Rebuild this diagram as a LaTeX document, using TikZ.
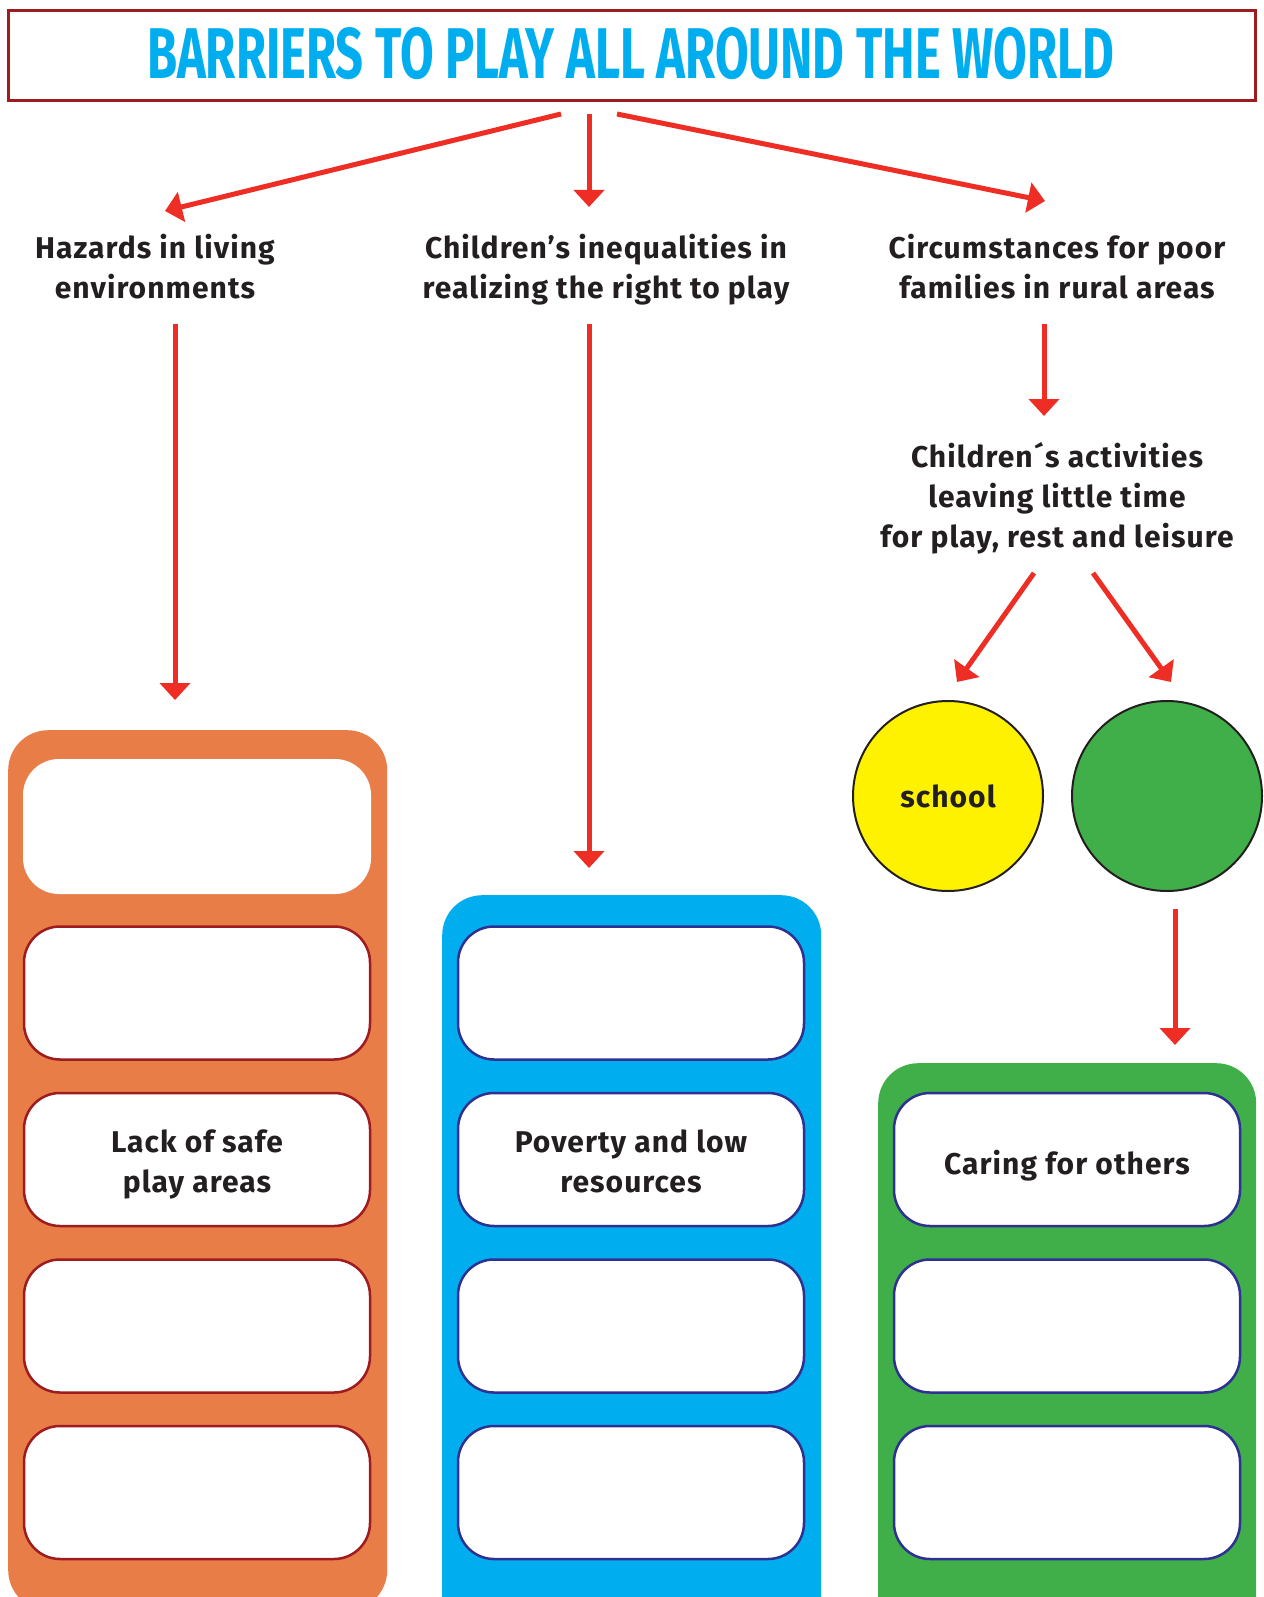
\documentclass[tikz,border=0pt]{standalone}
\usepackage{fontspec}
\usepackage{graphicx}
\setmainfont{Fira Sans}[LetterSpace=3.5]
\newfontfamily\titlefont{Fira Sans}
\usetikzlibrary{arrows.meta}
\definecolor{panelorange}{RGB}{232,125,71}
\definecolor{panelblue}{RGB}{0,174,239}
\definecolor{panelgreen}{RGB}{64,174,73}
\definecolor{arrowred}{RGB}{238,46,36}
\definecolor{darkred}{RGB}{158,27,32}
\definecolor{darkblue}{RGB}{46,49,146}
\definecolor{textgray}{RGB}{35,31,32}
\definecolor{circyellow}{RGB}{255,242,0}
\tikzset{
  redarrow/.style={draw=arrowred, line width=5pt, -{Triangle[length=17pt,width=30pt]}},
  label/.style={text=textgray, font=\bfseries\fontsize{30}{40}\selectfont, align=center, inner sep=0pt},
  panel/.style={rounded corners=40pt, inner sep=0pt, anchor=north west, minimum height=880pt, minimum width=379pt},
  cell/.style={rounded corners=36pt, fill=white, line width=2.5pt, minimum width=346pt, minimum height=133pt, inner sep=0pt},
  redcell/.style={cell, draw=darkred},
  bluecell/.style={cell, draw=darkblue},
  bubble/.style={circle, draw=textgray, line width=2pt, minimum size=190pt, inner sep=0pt}
}
\begin{document}
\begin{tikzpicture}[x=1pt,y=-1pt]
\useasboundingbox (0,0) rectangle (1263,1597);
\fill[white] (0,0) rectangle (1263,1597);
% title
\node[draw=darkred, line width=2.7pt, minimum width=1247pt, minimum height=90pt, anchor=north west, inner sep=0pt] (titlebox) at (7,9) {};
\node[anchor=base west, inner sep=0pt, text=panelblue] (title) at (147,79) {\resizebox{967pt}{51pt}{\titlefont\bfseries BARRIERS TO PLAY ALL AROUND THE WORLD}};
% labels
\node[label] (hazards) at (155,267) {Hazards in living\\environments};
\node[label] (inequal) at (606,270) {Children’s inequalities in\\realizing the right to play};
\node[label] (circum) at (1057,267) {Circumstances for poor\\families in rural areas};
\node[label] (activ) at (1057,498) {Children´s activities\\leaving little time\\for play, rest and leisure};
% panels
\node[panel, fill=panelorange] (porange) at (8,730) {};
\node[panel, fill=panelblue] (pblue) at (442,895) {};
\node[panel, fill=panelgreen, minimum width=378pt] (pgreen) at (878,1063) {};
% orange cells
\node[cell, minimum width=348pt, minimum height=135pt] (o1) at (197,826.5) {};
\node[redcell] (o2) at (197,993) {};
\node[redcell] (o3) at (197,1159.5) {};
\node[redcell] (o4) at (197,1326) {};
\node[redcell] (o5) at (197,1492.5) {};
% blue cells
\node[bluecell] (b2) at (631,993) {};
\node[bluecell] (b3) at (631,1159.5) {};
\node[bluecell] (b4) at (631,1326) {};
\node[bluecell] (b5) at (631,1492.5) {};
% green cells
\node[bluecell] (g3) at (1067,1159.5) {};
\node[bluecell] (g4) at (1067,1326) {};
\node[bluecell] (g5) at (1067,1492.5) {};
% cell texts
\node[label] (o3t) at ([yshift=-5pt]o3.center) {Lack of safe\\play areas};
\node[label] (b3t) at ([yshift=-2pt]b3.center) {Poverty and low\\resources};
\node[label] (g3t) at ([yshift=-6pt]g3.center) {Caring for others};
% circles
\node[bubble, fill=circyellow] (school) at (948,796) {};
\node[label] (schoolt) at (school.center) {school};
\node[bubble, fill=panelgreen] (gcirc) at (1167,796) {};
% arrow coordinates
\coordinate (t1) at (561,114);
\coordinate (t2) at (589,114);
\coordinate (t3) at (617,114);
\coordinate (h1) at (165,211);
\coordinate (h2) at (589,207);
\coordinate (h3) at (1045,201);
\coordinate (s1) at (175,324);
\coordinate (e1) at (175,700);
\coordinate (s2) at (589,324);
\coordinate (e2) at (589,868);
\coordinate (s3) at (1044,324);
\coordinate (e3) at (1044,416);
\coordinate (s4) at (1034,573);
\coordinate (e4) at (957,682);
\coordinate (s5) at (1093,573);
\coordinate (e5) at (1171,682);
\coordinate (s6) at (1175,909);
\coordinate (e6) at (1175,1045);
\draw[redarrow] (t1) -- (h1);
\draw[redarrow] (t2) -- (h2);
\draw[redarrow] (t3) -- (h3);
\draw[redarrow] (s1) -- (e1);
\draw[redarrow] (s2) -- (e2);
\draw[redarrow] (s3) -- (e3);
\draw[redarrow] (s4) -- (e4);
\draw[redarrow] (s5) -- (e5);
\draw[redarrow] (s6) -- (e6);
\end{tikzpicture}
\end{document}
